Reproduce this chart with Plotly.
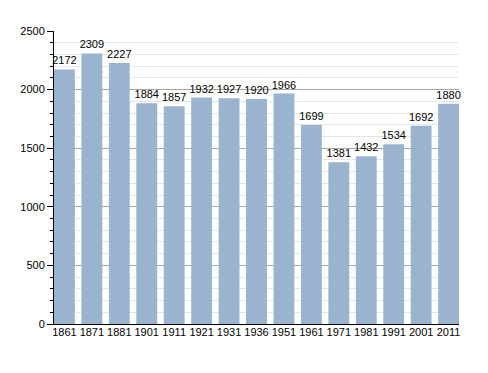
import plotly.graph_objects as go

years = ["1861", "1871", "1881", "1901", "1911", "1921", "1931", "1936",
         "1951", "1961", "1971", "1981", "1991", "2001", "2011"]
population = [2172, 2309, 2227, 1884, 1857, 1932, 1927, 1920,
              1966, 1699, 1381, 1432, 1534, 1692, 1880]

fig = go.Figure(go.Bar(
    x=years, y=population,
    marker=dict(color="#9ab3cf", line=dict(width=0)),
    text=[str(v) for v in population], textposition="outside",
    textfont=dict(family="Liberation Sans, Arial, sans-serif", size=11, color="black"),
    constraintext="none",
    cliponaxis=False,
))

fig.update_layout(
    width=480, height=365,
    margin=dict(l=43, r=29, t=23, b=49),
    paper_bgcolor="white", plot_bgcolor="white",
    bargap=0.24,
    showlegend=False,
    font=dict(family="Liberation Sans, Arial, sans-serif", size=11, color="black"),
)
fig.update_xaxes(
    type="category", range=[-0.38, 14.38],
    showline=True, linecolor="black", linewidth=1,
    ticks="", showgrid=False, tickfont=dict(size=11),
    ticklabelstandoff=-2,
)
fig.update_yaxes(
    range=[0, 2500], tickvals=[0, 500, 1000, 1500, 2000, 2500],
    showline=True, linecolor="black", linewidth=1,
    ticks="outside", ticklen=6, tickcolor="black",
    showgrid=True, gridcolor="#a8a8a8", gridwidth=1,
    zeroline=False,
    minor=dict(dtick=100, ticks="outside", ticklen=3, tickcolor="black",
               showgrid=True, gridcolor="#e6e6e6", gridwidth=1),
    tickfont=dict(size=11),
)

fig.write_html("out.html")
